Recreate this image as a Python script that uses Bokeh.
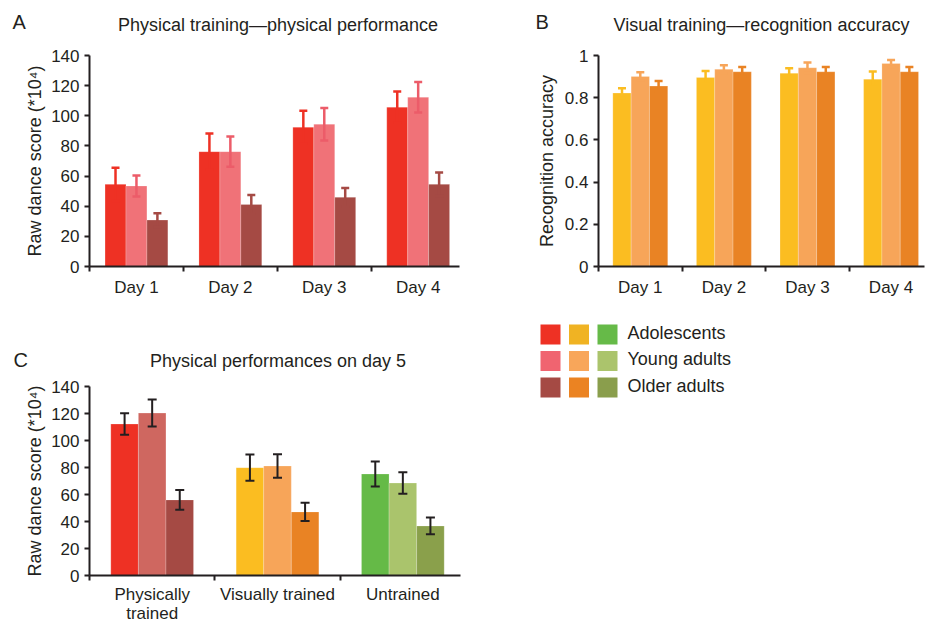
from bokeh.plotting import figure
from bokeh.models import Range1d, FixedTicker, Whisker, ColumnDataSource, TeeHead
from bokeh.layouts import column, row
from bokeh.embed import file_html
from bokeh.resources import INLINE
from bokeh.core.properties import value

FONT = "Liberation Sans"
INK = "#231F20"

# ---------------- data ----------------
groups = ["Adolescents", "Young adults", "Older adults"]
days = ["Day 1", "Day 2", "Day 3", "Day 4"]

# Panel A: physical training - physical performance (raw dance score, *10^4)
a_adolescents = [54.5, 76.2, 92.4, 105.7]
a_young = [53.4, 76.2, 94.4, 112.3]
a_older = [30.8, 41.2, 45.9, 54.5]
a_adolescents_err = [11.0, 12.0, 11.0, 10.4]
a_young_err = [7.0, 10.0, 10.8, 10.2]
a_older_err = [4.6, 6.2, 6.2, 7.8]

# Panel B: visual training - recognition accuracy
b_adolescents = [0.822, 0.896, 0.916, 0.888]
b_young = [0.901, 0.935, 0.942, 0.962]
b_older = [0.855, 0.923, 0.923, 0.923]
b_adolescents_err = [0.023, 0.030, 0.024, 0.036]
b_young_err = [0.020, 0.019, 0.025, 0.017]
b_older_err = [0.024, 0.023, 0.023, 0.023]

# Panel C: physical performances on day 5
conditions = ["Physically\ntrained", "Visually trained", "Untrained"]
c_adolescents = [112.2, 79.9, 75.2]
c_young = [120.3, 81.1, 68.5]
c_older = [56.0, 47.1, 36.7]
c_adolescents_err = [7.9, 9.8, 9.2]
c_young_err = [10.0, 8.7, 7.9]
c_older_err = [7.3, 6.7, 6.2]

score_ticks = [0, 20, 40, 60, 80, 100, 120, 140]
acc_ticks = [0, 0.2, 0.4, 0.6, 0.8, 1]
acc_tick_labels = ["0", "0.2", "0.4", "0.6", "0.8", "1"]

titles = ["Physical training\u2014physical performance",
          "Visual training\u2014recognition accuracy",
          "Physical performances on day 5"]
letters = ["A", "B", "C"]

# colours
red_set = ["#EE3124", "#F07278", "#A54A44"]
red_whisk = ["#EE3124", "#EC5C69", "#A54A44"]
orange_set = ["#FBBD21", "#F7A559", "#E98324"]
c_fill_adolescents = ["#EE3124", "#FBBD21", "#65BA47"]
c_fill_young = ["#CF6760", "#F7A559", "#AAC46C"]
c_fill_older = ["#A54A44", "#E98324", "#8AA04B"]
legend_cols = [["#EE3124", "#F06470", "#A54A44"],
               ["#F0B323", "#F8A65A", "#EB8322"],
               ["#66BA48", "#ABC46C", "#8A9E4C"]]

# the svg text glyphs sit about this far (in em) below the requested baseline
BASE_FIX = 0.36


def blank(width, height):
    p = figure(width=width, height=height, frame_width=width, frame_height=height,
               x_range=Range1d(0, width), y_range=Range1d(height, 0),
               output_backend="svg", toolbar_location=None, min_border=0,
               x_axis_location=None, y_axis_location=None, frame_align=False)
    p.outline_line_color = None
    p.xgrid.visible = False
    p.ygrid.visible = False
    return p


def header(width, height, title, tx, ty, letter, lx, ly):
    h = blank(width, height)
    h.text(x=[tx], y=[ty - BASE_FIX * 18], text=[title], text_font=value(FONT),
           text_font_size="18px", text_color=INK, text_align="center",
           text_baseline="alphabetic")
    h.text(x=[lx], y=[ly - BASE_FIX * 20], text=[letter], text_font=value(FONT),
           text_font_size="20px", text_color=INK, text_align="left",
           text_baseline="alphabetic")
    return h


def make_panel(cats, series, errs, fills, whisk, *, xend, ymax, yticks, ylabels,
               ylabel, fw, fh, bl, bt, br, bb, bar_w, whisk_w, tee,
               xstand, xline, ystand):
    p = figure(width=bl + fw + br, height=bt + fh + bb, frame_width=fw, frame_height=fh,
               x_range=Range1d(0, xend), y_range=Range1d(0, ymax),
               output_backend="svg", toolbar_location=None, frame_align=False,
               min_border_left=bl, min_border_right=br,
               min_border_top=bt, min_border_bottom=bb)
    p.outline_line_color = None
    p.xgrid.visible = False
    p.ygrid.visible = False
    n = len(cats)
    centers = [i + 0.5 for i in range(n)]
    for j, (vals, err) in enumerate(zip(series, errs)):
        xs = [c + (j - 1) * bar_w for c in centers]
        src = ColumnDataSource(dict(
            x=xs, top=vals,
            upper=[v + e for v, e in zip(vals, err)],
            lower=[v - e for v, e in zip(vals, err)],
            color=fills[j]))
        p.vbar(x="x", top="top", bottom=0, width=bar_w, fill_color="color",
               line_color="white", line_alpha=0.35, line_width=0.6, source=src)
        w = Whisker(source=src, base="x", upper="upper", lower="lower",
                    line_color=whisk[j], line_width=whisk_w, level="annotation",
                    upper_head=TeeHead(size=tee, line_color=whisk[j], line_width=whisk_w),
                    lower_head=TeeHead(size=tee, line_color=whisk[j], line_width=whisk_w))
        p.add_layout(w)

    xa = p.xaxis[0]
    xa.ticker = FixedTicker(ticks=centers, minor_ticks=list(range(n)))
    xa.major_label_overrides = {c: cat for c, cat in zip(centers, cats)}
    xa.major_tick_out = 0
    xa.major_tick_in = 0
    xa.minor_tick_out = 5
    xa.minor_tick_in = 0
    xa.minor_tick_line_width = 2
    xa.minor_tick_line_color = INK
    xa.axis_line_width = 2
    xa.axis_line_color = INK
    xa.major_label_standoff = xstand
    xa.major_label_text_font = FONT
    xa.major_label_text_font_size = "17px"
    xa.major_label_text_color = INK
    xa.major_label_text_line_height = xline

    ya = p.yaxis[0]
    ya.ticker = FixedTicker(ticks=yticks)
    if ylabels is not None:
        ya.major_label_overrides = {t: s for t, s in zip(yticks, ylabels)}
    ya.major_tick_out = 5
    ya.major_tick_in = 0
    ya.major_tick_line_width = 2
    ya.major_tick_line_color = INK
    ya.minor_tick_out = 0
    ya.minor_tick_in = 0
    ya.axis_line_width = 2
    ya.axis_line_color = INK
    ya.major_label_standoff = 5
    ya.major_label_text_font = FONT
    ya.major_label_text_font_size = "17px"
    ya.major_label_text_color = INK
    ya.axis_label = ylabel
    ya.axis_label_text_font = FONT
    ya.axis_label_text_font_size = "18px"
    ya.axis_label_text_font_style = "normal"
    ya.axis_label_text_color = INK
    ya.axis_label_standoff = ystand
    return p


hA = header(463, 44, titles[0], 277.5, 30.7, letters[0], 12, 29)
pA = make_panel(days, [a_adolescents, a_young, a_older],
                [a_adolescents_err, a_young_err, a_older_err],
                [[c] * 4 for c in red_set], red_whisk,
                xend=3.94, ymax=140, yticks=score_ticks, ylabels=None,
                ylabel="Raw dance score (*10\u2074)",
                fw=370, fh=211, bl=89, bt=11, br=4, bb=38, bar_w=0.223,
                whisk_w=2.5, tee=8, xstand=6, xline=1.2, ystand=3)

hB = header(462, 44, titles[1], 298, 30.7, letters[1], 72, 29)
pB = make_panel(days, [b_adolescents, b_young, b_older],
                [b_adolescents_err, b_young_err, b_older_err],
                [[c] * 4 for c in orange_set], orange_set,
                xend=3.9, ymax=1, yticks=acc_ticks, ylabels=acc_tick_labels,
                ylabel="Recognition accuracy",
                fw=326, fh=211, bl=135, bt=11, br=1, bb=38, bar_w=0.219,
                whisk_w=2.5, tee=8, xstand=6, xline=1.2, ystand=5)

hC = header(463, 73, titles[2], 277.5, 63, letters[2], 13, 63)
pC = make_panel(conditions, [c_adolescents, c_young, c_older],
                [c_adolescents_err, c_young_err, c_older_err],
                [c_fill_adolescents, c_fill_young, c_fill_older], [INK, INK, INK],
                xend=2.96, ymax=140, yticks=score_ticks, ylabels=None,
                ylabel="Raw dance score (*10\u2074)",
                fw=371, fh=189, bl=89, bt=9, br=3, bb=50, bar_w=0.22,
                whisk_w=2, tee=9, xstand=4, xline=1.0, ystand=3)

# legend panel
pL = blank(462, 321)
sq_x, sq_y, sq_c = [], [], []
for ci, col in enumerate(legend_cols):
    for ri, colr in enumerate(col):
        sq_x.append(87 + 28.5 * ci)
        sq_y.append(30 + 26.5 * ri)
        sq_c.append(colr)
pL.rect(x=sq_x, y=sq_y, width=20, height=20, fill_color=sq_c, line_color=None)
pL.text(x=[164] * len(groups),
        y=[30 + 26.5 * ri + 4.5 - BASE_FIX * 18 for ri in range(len(groups))],
        text=groups, text_font=value(FONT), text_font_size="18px", text_color=INK,
        text_baseline="alphabetic", text_align="left")

layout = column(row(column(hA, pA), column(hB, pB)), row(column(hC, pC), pL))
open("out.html", "w").write(file_html(layout, INLINE))
